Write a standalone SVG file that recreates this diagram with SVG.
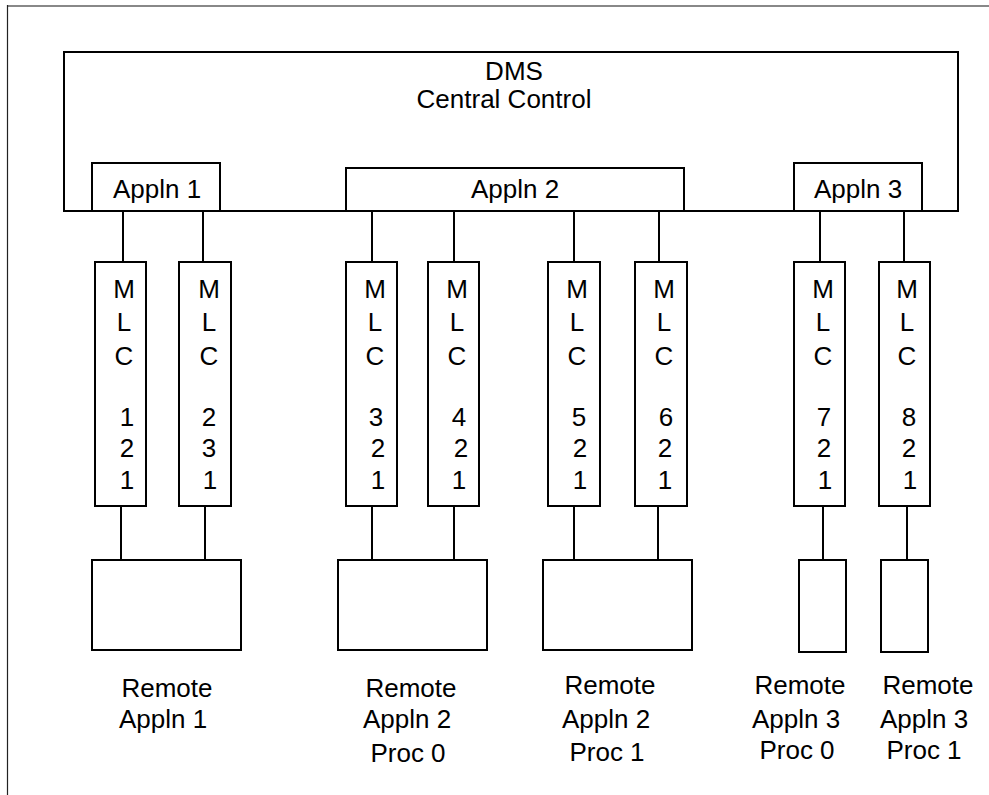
<svg xmlns="http://www.w3.org/2000/svg" width="989" height="795" viewBox="0 0 989 795">
<style>
.b{fill:#fff;stroke:#000;stroke-width:2}
.c{stroke:#000;stroke-width:2;fill:none}
text{font-family:"Liberation Sans",Arial,sans-serif;font-size:26px;fill:#000;text-anchor:middle}
</style>
<rect width="989" height="795" fill="#fff"/>
<g id="frame">
<line x1="7" y1="6" x2="989" y2="6" stroke="#888" stroke-width="2"/>
<line x1="7.5" y1="5" x2="7.5" y2="795" stroke="#222" stroke-width="1.2"/>
</g>
<g id="connectors">
<path class="c" d="M123 211V262M203 211V262M372 211V262M454 211V262M574 211V262M659 211V262M820 211V262M904 211V262"/>
<path class="c" d="M121 506V560M205 506V560M372 506V560M454 506V560M574 506V560M658 506V560M823 506V560M907 506V560"/>
</g>
<g id="dms">
<rect class="b" x="64" y="52" width="894" height="159"/>
<text x="514" y="80">DMS</text>
<text x="504" y="108">Central Control</text>
</g>
<g id="appln1"><rect class="b" x="92" y="163" width="128" height="48"/><text x="157" y="198">Appln 1</text></g>
<g id="appln2"><rect class="b" x="346" y="168" width="338" height="43"/><text x="515" y="198">Appln 2</text></g>
<g id="appln3"><rect class="b" x="794" y="163" width="128" height="48"/><text x="858" y="198">Appln 3</text></g>
<g id="mlc121"><rect class="b" x="95" y="262" width="51" height="244"/>
<text x="124" y="298">M</text><text x="124" y="331">L</text><text x="124" y="365">C</text><text x="127" y="426">1</text><text x="127" y="457">2</text><text x="127" y="489">1</text></g>
<g id="mlc231"><rect class="b" x="179" y="262" width="52" height="244"/>
<text x="209" y="298">M</text><text x="209" y="331">L</text><text x="209" y="365">C</text><text x="209" y="426">2</text><text x="209" y="457">3</text><text x="210" y="489">1</text></g>
<g id="mlc321"><rect class="b" x="346" y="262" width="51" height="244"/>
<text x="375" y="298">M</text><text x="375" y="331">L</text><text x="375" y="365">C</text><text x="376" y="426">3</text><text x="378" y="457">2</text><text x="378" y="489">1</text></g>
<g id="mlc421"><rect class="b" x="428" y="262" width="51" height="244"/>
<text x="457" y="298">M</text><text x="457" y="331">L</text><text x="457" y="365">C</text><text x="459" y="426">4</text><text x="461" y="457">2</text><text x="459" y="489">1</text></g>
<g id="mlc521"><rect class="b" x="548" y="262" width="52" height="244"/>
<text x="577" y="298">M</text><text x="577" y="331">L</text><text x="577" y="365">C</text><text x="579" y="426">5</text><text x="580" y="457">2</text><text x="580" y="489">1</text></g>
<g id="mlc621"><rect class="b" x="635" y="262" width="52" height="244"/>
<text x="664" y="298">M</text><text x="664" y="331">L</text><text x="664" y="365">C</text><text x="666" y="426">6</text><text x="665" y="457">2</text><text x="665" y="489">1</text></g>
<g id="mlc721"><rect class="b" x="794" y="262" width="51" height="244"/>
<text x="823" y="298">M</text><text x="823" y="331">L</text><text x="823" y="365">C</text><text x="824" y="426">7</text><text x="824" y="457">2</text><text x="825" y="489">1</text></g>
<g id="mlc821"><rect class="b" x="879" y="262" width="51" height="244"/>
<text x="907" y="298">M</text><text x="907" y="331">L</text><text x="907" y="365">C</text><text x="909" y="426">8</text><text x="909" y="457">2</text><text x="910" y="489">1</text></g>
<g id="remote1"><rect class="b" x="92" y="560" width="149" height="90"/>
<text x="167" y="697">Remote</text><text x="163" y="728">Appln 1</text></g>
<g id="remote2p0"><rect class="b" x="338" y="560" width="149" height="90"/>
<text x="411" y="697">Remote</text><text x="407" y="728">Appln 2</text><text x="408" y="762">Proc 0</text></g>
<g id="remote2p1"><rect class="b" x="543" y="560" width="149" height="90"/>
<text x="610" y="694">Remote</text><text x="606" y="728">Appln 2</text><text x="607" y="761">Proc 1</text></g>
<g id="remote3p0"><rect class="b" x="799" y="560" width="47" height="92"/>
<text x="800" y="694">Remote</text><text x="796" y="728">Appln 3</text><text x="797" y="759">Proc 0</text></g>
<g id="remote3p1"><rect class="b" x="881" y="560" width="47" height="92"/>
<text x="928" y="694">Remote</text><text x="924" y="728">Appln 3</text><text x="924" y="759">Proc 1</text></g>
</svg>
